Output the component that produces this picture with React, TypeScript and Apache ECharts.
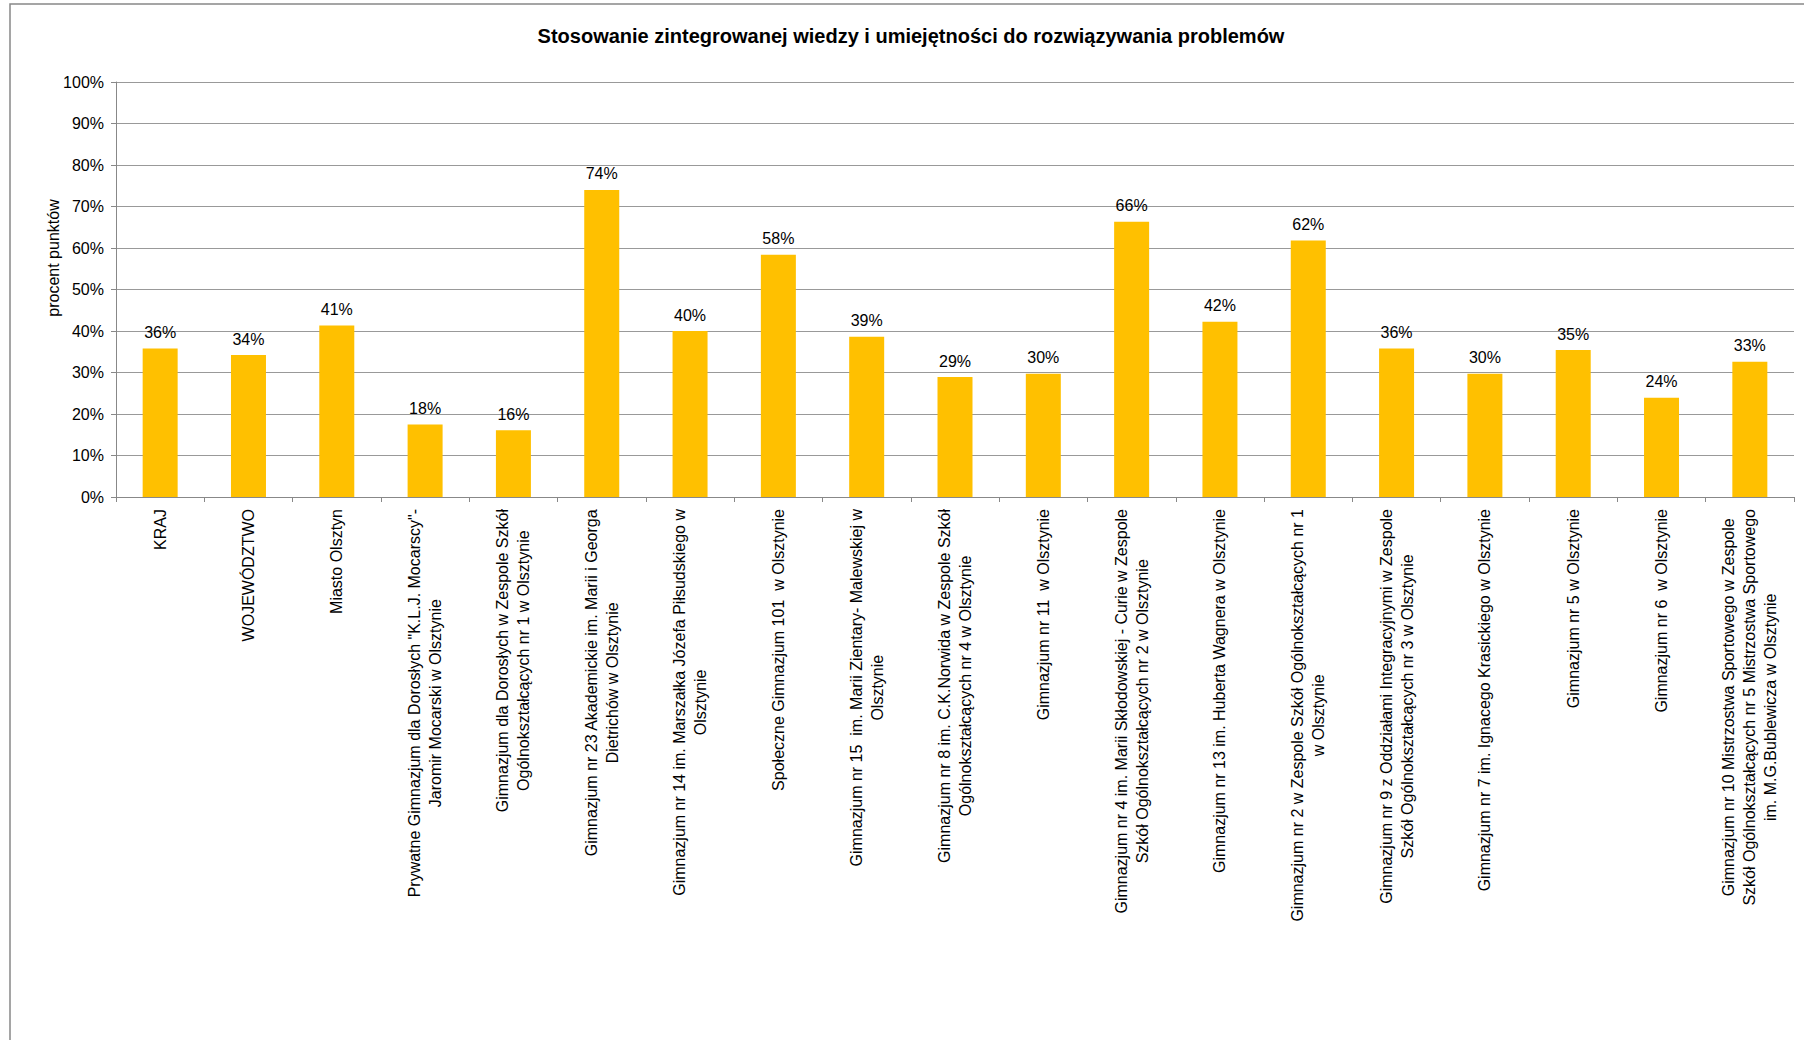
import React, { useEffect, useRef } from "react";
import * as echarts from "echarts";

const titleText = "Stosowanie zintegrowanej wiedzy i umiejętności do rozwiązywania problemów";
const yAxisTitle = "procent punktów";

const categories: string[] = [
  "KRAJ",
  "WOJEWÓDZTWO",
  "Miasto Olsztyn",
  "Prywatne Gimnazjum dla Dorosłych \"K.L.J. Mocarscy\"-\nJaromir Mocarski w Olsztynie",
  "Gimnazjum dla Dorosłych w Zespole Szkół\nOgólnokształcących nr 1 w Olsztynie",
  "Gimnazjum nr 23 Akademickie im. Marii i Georga\nDietrichów w Olsztynie",
  "Gimnazjum nr 14 im. Marszałka Józefa Piłsudskiego w\nOlsztynie",
  "Społeczne Gimnazjum 101  w Olsztynie",
  "Gimnazjum nr 15  im. Marii Zientary- Malewskiej w\nOlsztynie",
  "Gimnazjum nr 8 im. C.K.Norwida w Zespole Szkół\nOgólnokształcących nr 4 w Olsztynie",
  "Gimnazjum nr 11  w Olsztynie",
  "Gimnazjum nr 4 im. Marii Skłodowskiej - Curie w Zespole\nSzkół Ogólnokształcących nr 2 w Olsztynie",
  "Gimnazjum nr 13 im. Huberta Wagnera w Olsztynie",
  "Gimnazjum nr 2 w Zespole Szkół Ogólnokształcących nr 1\nw Olsztynie",
  "Gimnazjum nr 9 z Oddziałami Integracyjnymi w Zespole\nSzkół Ogólnokształcących nr 3 w Olsztynie",
  "Gimnazjum nr 7 im. Ignacego Krasickiego w Olsztynie",
  "Gimnazjum nr 5 w Olsztynie",
  "Gimnazjum nr 6  w Olsztynie",
  "Gimnazjum nr 10 Mistrzostwa Sportowego w Zespole\nSzkół Ogólnokształcących nr 5 Mistrzostwa Sportowego\nim. M.G.Bublewicza w Olsztynie",
];

const values: number[] = [
  35.8, 34.2, 41.3, 17.5, 16.1, 74.0, 40.0, 58.4, 38.6, 28.9,
  29.7, 66.3, 42.2, 61.8, 35.8, 29.7, 35.4, 23.9, 32.6,
];

const yMin = 0;
const yMax = 100;
const yInterval = 10;

const FONT = "'Liberation Sans', Arial, sans-serif";

export default function App() {
  const ref = useRef<HTMLDivElement>(null);

  useEffect(() => {
    if (!ref.current) return;
    const chart = echarts.init(ref.current, null, { renderer: "svg" });
    chart.setOption({
      animation: false,
      backgroundColor: "#ffffff",
      title: {
        text: titleText,
        left: 906,
        textAlign: "center",
        top: 21,
        textStyle: { fontFamily: FONT, fontSize: 20, fontWeight: "bold", color: "#000" },
      },
      grid: { left: 116, right: 10, top: 82, bottom: 543, containLabel: false },
      xAxis: {
        type: "category",
        data: categories,
        axisLine: { lineStyle: { color: "#888888", width: 1 } },
        axisTick: { show: true, length: 5, lineStyle: { color: "#888888" } },
        axisLabel: {
          interval: 0,
          rotate: 90,
          margin: 12,
          hideOverlap: false,
          color: "#000",
          fontFamily: FONT,
          fontSize: 16,
          lineHeight: 21,
          formatter: (v: string) =>
            v
              .split("\n")
              .map((l) => `{c|${l}}`)
              .join("\n"),
          rich: {
            c: { align: "center", fontFamily: FONT, fontSize: 16, lineHeight: 21, color: "#000" },
          },
        },
      },
      yAxis: {
        type: "value",
        min: yMin,
        max: yMax,
        interval: yInterval,
        axisLine: { show: true, lineStyle: { color: "#888888", width: 1 } },
        axisTick: { show: true, length: 5, lineStyle: { color: "#888888" } },
        splitLine: { show: true, lineStyle: { color: "#999999", width: 1 } },
        axisLabel: {
          margin: 12,
          color: "#000",
          fontFamily: FONT,
          fontSize: 16,
          formatter: "{value}%",
        },
      },
      graphic: [
        {
          type: "rect",
          shape: { x: 10, y: 4, width: 1830, height: 1100 },
          style: { fill: "none", stroke: "#888888", lineWidth: 1.5 },
          silent: true,
        },
        {
          type: "text",
          x: 53,
          y: 258,
          rotation: Math.PI / 2,
          style: {
            text: yAxisTitle,
            fontFamily: FONT,
            fontSize: 16,
            fill: "#000",
            align: "center",
            verticalAlign: "middle",
          },
        },
      ],
      series: [
        {
          type: "bar",
          data: values,
          barWidth: 35,
          itemStyle: { color: "#FFC000" },
          label: {
            show: true,
            position: "top",
            distance: 8,
            color: "#000",
            fontFamily: FONT,
            fontSize: 16,
            formatter: (p: any) => `${Math.round(p.value)}%`,
          },
        },
      ],
    });
    return () => chart.dispose();
  }, []);

  return (
    <div
      ref={ref}
      style={{ position: "absolute", left: 0, top: 0, width: 1804, height: 1040 }}
    />
  );
}
